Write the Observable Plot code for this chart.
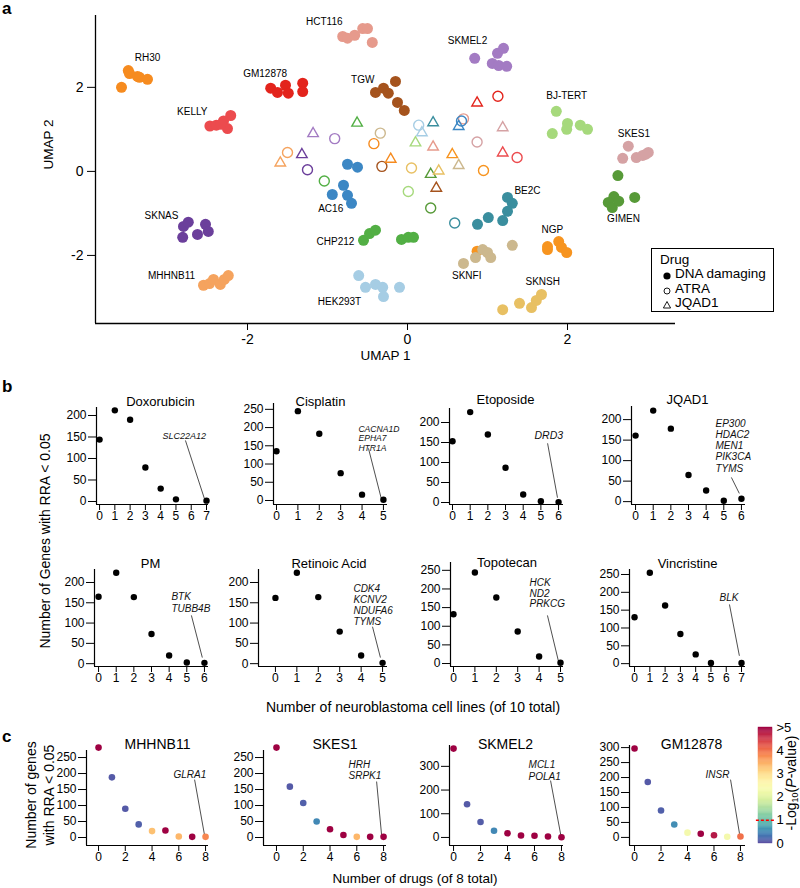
<!DOCTYPE html>
<html><head><meta charset="utf-8">
<script src="https://cdn.jsdelivr.net/npm/d3@7"></script>
<script src="https://cdn.jsdelivr.net/npm/@observablehq/plot@0.6"></script>
<style>
body{margin:0;background:#fff;}
#root{position:relative;width:800px;height:888px;font-family:"Liberation Sans",Arial,Helvetica,sans-serif;overflow:hidden;background:#fff;color:#000;}
</style></head><body><div id="root"></div>
<script>
// ---------------- DATA ----------------
// Panel a: UMAP
const cellLines = ["RH30","KELLY","GM12878","HCT116","SKMEL2","TGW","BJ-TERT","SKES1","GIMEN","BE2C","NGP","SKNSH","SKNFI","HEK293T","CHP212","AC16","SKNAS","MHHNB11"];
const lineColors = ["#F68B1F","#EC4B4E","#E3241C","#E69A8C","#A37BC3","#A5531D","#A6D97C","#D5A2A4","#579A38","#3A8E9E","#F7941F","#E8C063","#CCB88E","#A6CDE4","#52AF44","#3C87C4","#6B3F9B","#F5A35E"];
const umapTicks = [-2, 0, 2];
const dnaDamaging = [
 ["RH30",-3.49,2.40],["RH30",-3.475,2.33],["RH30",-3.375,2.26],["RH30",-3.35,2.24],["RH30",-3.25,2.19],["RH30",-3.575,2.0],
 ["KELLY",-2.47,1.08],["KELLY",-2.39,1.10],["KELLY",-2.30,1.20],["KELLY",-2.21,1.33],["KELLY",-2.25,1.02],["KELLY",-2.33,1.12],
 ["GM12878",-1.71,1.98],["GM12878",-1.625,1.88],["GM12878",-1.525,2.05],["GM12878",-1.49,1.86],["GM12878",-1.31,2.10],["GM12878",-1.31,1.90],
 ["HCT116",-0.81,3.21],["HCT116",-0.75,3.17],["HCT116",-0.66,3.24],["HCT116",-0.56,3.40],["HCT116",-0.50,3.40],["HCT116",-0.44,3.07],
 ["SKMEL2",0.84,2.69],["SKMEL2",1.06,2.57],["SKMEL2",1.125,2.81],["SKMEL2",1.2,2.93],["SKMEL2",1.14,2.52],["SKMEL2",1.24,2.5],
 ["TGW",-0.40,1.88],["TGW",-0.30,1.98],["TGW",-0.24,1.86],["TGW",-0.15,2.14],["TGW",-0.125,1.64],["TGW",-0.04,1.45],
 ["BJ-TERT",1.86,1.43],["BJ-TERT",2.0,1.14],["BJ-TERT",1.99,1.0],["BJ-TERT",1.81,0.90],["BJ-TERT",2.16,1.10],["BJ-TERT",2.25,1.0],
 ["SKES1",2.76,0.60],["SKES1",2.69,0.31],["SKES1",2.86,0.33],["SKES1",2.94,0.38],["SKES1",3.01,0.45],["SKES1",2.98,0.41],
 ["GIMEN",2.63,-0.10],["GIMEN",2.58,-0.60],["GIMEN",2.51,-0.74],["GIMEN",2.56,-0.86],["GIMEN",2.64,-0.71],["GIMEN",2.84,-0.62],
 ["BE2C",1.25,-0.62],["BE2C",1.31,-0.76],["BE2C",1.25,-0.95],["BE2C",1.19,-1.17],["BE2C",1.01,-1.10],["BE2C",0.875,-1.26],
 ["NGP",1.75,-1.86],["NGP",1.89,-1.67],["NGP",1.925,-1.81],["NGP",1.99,-1.93],["NGP",1.75,-1.79],["NGP",0.87,-1.90],
 ["SKNSH",1.19,-3.29],["SKNSH",1.40,-3.14],["SKNSH",1.55,-3.24],["SKNSH",1.61,-3.07],["SKNSH",1.675,-2.93],
 ["SKNFI",0.70,-2.19],["SKNFI",0.85,-2.05],["SKNFI",0.94,-1.86],["SKNFI",1.0,-1.93],["SKNFI",1.04,-2.05],["SKNFI",1.31,-1.76],
 ["HEK293T",-0.61,-2.48],["HEK293T",-0.525,-2.76],["HEK293T",-0.40,-2.69],["HEK293T",-0.31,-2.76],["HEK293T",-0.30,-2.98],["HEK293T",-0.10,-2.76],
 ["CHP212",-0.55,-1.64],["CHP212",-0.475,-1.48],["CHP212",-0.40,-1.40],["CHP212",-0.075,-1.62],["CHP212",0.01,-1.57],["CHP212",0.075,-1.57],
 ["AC16",-0.75,0.17],["AC16",-0.625,0.10],["AC16",-0.80,-0.33],["AC16",-0.94,-0.55],["AC16",-0.75,-0.57],["AC16",-0.70,-0.76],
 ["SKNAS",-2.80,-1.31],["SKNAS",-2.74,-1.21],["SKNAS",-2.81,-1.57],["SKNAS",-2.625,-1.50],["SKNAS",-2.525,-1.26],["SKNAS",-2.49,-1.43],
 ["MHHNB11",-2.55,-2.71],["MHHNB11",-2.475,-2.67],["MHHNB11",-2.425,-2.57],["MHHNB11",-2.34,-2.69],["MHHNB11",-2.29,-2.57],["MHHNB11",-2.24,-2.48]
];
const atra = [
 ["SKMEL2",-0.91,0.78],["SKNAS",-1.25,0.04],["MHHNB11",-1.50,0.45],["CHP212",-1.04,-0.23],["SKNFI",-0.34,0.91],["RH30",-0.42,0.66],
 ["TGW",-0.32,0.12],["HEK293T",0.14,1.10],["SKNSH",0.05,0.08],["BJ-TERT",0.01,-0.48],["GIMEN",0.29,-0.87],["BE2C",0.59,-1.23],
 ["HCT116",0.70,1.25],["AC16",0.675,1.20],["SKES1",0.87,0.70],["NGP",0.95,0.02],["GM12878",1.13,1.79],["KELLY",1.37,0.33]
];
const jqad1 = [
 ["SKMEL2",-1.18,0.90],["SKNAS",-1.32,0.40],["MHHNB11",-1.59,0.20],["CHP212",-0.63,1.15],["RH30",-0.21,0.29],["HEK293T",0.18,0.92],
 ["BE2C",0.32,1.16],["BJ-TERT",0.10,0.68],["HCT116",0.32,0.58],["AC16",0.64,1.07],["NGP",0.56,0.40],["SKNFI",0.64,0.14],
 ["GIMEN",0.29,-0.07],["SKNSH",0.39,0.01],["TGW",0.36,-0.40],["GM12878",0.87,1.63],["SKES1",1.19,1.04],["KELLY",1.19,0.44]
];
const lineLabels = [
 ["RH30",-3.25,2.71],["GM12878",-1.78,2.33],["KELLY",-2.69,1.43],["HCT116",-1.04,3.55],["SKMEL2",0.75,3.10],["TGW",-0.56,2.19],
 ["BJ-TERT",1.99,1.81],["SKES1",2.83,0.90],["GIMEN",2.70,-1.14],["BE2C",1.50,-0.47],["NGP",1.81,-1.38],["SKNSH",1.69,-2.62],
 ["SKNFI",0.74,-2.48],["HEK293T",-0.85,-3.10],["CHP212",-0.90,-1.67],["AC16",-0.96,-0.90],["SKNAS",-3.075,-1.05],["MHHNB11",-2.95,-2.48]
];
const drugLegend = ["DNA damaging","ATRA","JQAD1"];

// Panel b: genes per number of neuroblastoma cell lines
const doxLines = [0,1,2,3,4,5,7];   const doxGenes = [144,212,190,79,30,5,2];
const cisLines = [0,1,2,3,4,5];     const cisGenes = [135,245,183,75,16,2];
const etoLines = [0,1,2,3,4,5,6];   const etoGenes = [153,226,170,87,20,3,1];
const jqLines  = [0,1,2,3,4,5,6];   const jqGenes  = [161,222,178,65,27,2,7];
const pmLines  = [0,1,2,3,4,5,6];   const pmGenes  = [165,224,164,73,20,3,2];
const raLines  = [0,1,2,3,4,5];     const raGenes  = [162,224,164,79,20,2];
const topoLines= [0,1,2,3,4,5];     const topoGenes= [132,244,177,86,19,2];
const vinLines = [0,1,2,3,4,5,7];   const vinGenes = [130,255,163,83,26,2,2];
const doxHits = ["SLC22A12"];
const cisHits = ["CACNA1D","EPHA7","HTR1A"];
const etoHits = ["DRD3"];
const jqHits  = ["EP300","HDAC2","MEN1","PIK3CA","TYMS"];
const pmHits  = ["BTK","TUBB4B"];
const raHits  = ["CDK4","KCNV2","NDUFA6","TYMS"];
const topoHits= ["HCK","ND2","PRKCG"];
const vinHits = ["BLK"];

// Panel c: genes per number of drugs, coloured by -log10(P)
const drugCounts = [0,1,2,3,4,5,6,7,8];
const mhhGenes = [281,188,90,41,20,22,3,2,2];   const mhhLogP = [5,0.1,0.1,0.15,3.3,5,3.4,5,3.8];
const skesGenes = [281,159,108,50,26,8,2,2,2];  const skesLogP = [5,0.1,0.15,0.5,5,5,3.4,5,5];
const skmelGenes = [375,140,65,28,18,8,7,4,1];  const skmelLogP = [5,0.1,0.12,0.5,5,5,5,5,5];
const gmGenes = [297,185,90,43,16,12,7,2,3];    const gmLogP = [5,0.1,0.15,0.55,2.3,5,4.8,2.3,4.0];
const mhhHits = ["GLRA1"]; const skesHits = ["HRH","SRPK1"]; const skmelHits = ["MCL1","POLA1"]; const gmHits = ["INSR"];
const logPTicks = [0,1,2,3,4,5];
const logPThreshold = 1;

// ---------------- DRAWING ----------------
const root = document.getElementById("root");
const FONT = '"Liberation Sans", Arial, Helvetica, sans-serif';
function place(el, left, top){ el.style.position="absolute"; el.style.left=left+"px"; el.style.top=top+"px"; root.appendChild(el); return el; }
function label(html, css){ const d=document.createElement("div"); d.innerHTML=html;
  Object.assign(d.style,{position:"absolute",whiteSpace:"nowrap",fontFamily:FONT,lineHeight:"1"},css); root.appendChild(d); return d; }
const rows = arr => arr.map(([line,u1,u2]) => ({line,u1,u2}));

// Panel a
{
  const fr = {l:95, t:15, r:675, b:323}, W = 800, H = 370;
  const xd = [-3.9, 3.35], yd = [-3.62, 3.71];
  const p = Plot.plot({
    width: W, height: H, marginLeft: fr.l, marginRight: W-fr.r, marginTop: fr.t, marginBottom: H-fr.b,
    style: {fontFamily: FONT, fontSize: "14px", background: "none", overflow: "visible", color: "#000"},
    x: {domain: xd, ticks: umapTicks, tickFormat: d => String(d), tickSize: 7, tickPadding: 4, label: null},
    y: {domain: yd, ticks: umapTicks, tickFormat: d => String(d), tickSize: 8, tickPadding: 4, label: null},
    color: {domain: cellLines, range: lineColors},
    marks: [
      Plot.ruleX([xd[0]], {strokeWidth: 1.3}),
      Plot.ruleY([yd[0]], {strokeWidth: 1.3}),
      Plot.dot(rows(atra), {x: "u1", y: "u2", stroke: "line", r: 5, strokeWidth: 1.4}),
      Plot.dot(rows(jqad1), {x: "u1", y: "u2", stroke: "line", symbol: "triangle", r: 3.9, strokeWidth: 1.4}),
      Plot.dot(rows(dnaDamaging), {x: "u1", y: "u2", fill: "line", r: 5.5}),
      Plot.text(rows(lineLabels), {x: "u1", y: "u2", text: "line", fontSize: 10}),
      Plot.text(["UMAP 1"], {frameAnchor: "bottom", text: d => d, dy: 36, fontSize: 13.5}),
      Plot.text(["UMAP 2"], {frameAnchor: "left", text: d => d, dx: -47, rotate: -90, fontSize: 13.5})
    ]
  });
  place(p, 0, 0);
  // legend
  const lg = document.createElement("div");
  Object.assign(lg.style, {position:"absolute", left:"651px", top:"248px", width:"121px", height:"62px",
    border:"1.5px solid #000", background:"#fff", fontFamily:FONT, fontSize:"13.5px"});
  const sym = [
    '<svg width="10" height="10"><circle cx="5" cy="5" r="3.6" fill="#000"/></svg>',
    '<svg width="10" height="10"><circle cx="5" cy="5" r="3" fill="none" stroke="#000" stroke-width="0.9"/></svg>',
    '<svg width="10" height="10"><path d="M5,1.5 L8.6,8 L1.4,8 Z" fill="none" stroke="#000" stroke-width="0.9"/></svg>'
  ];
  let h = '<div style="position:absolute;left:8px;top:3px;line-height:16px">Drug</div>';
  drugLegend.forEach((t,i) => {
    const cy = 25 + i*14.5;
    h += `<div style="position:absolute;left:10px;top:${cy-5}px;width:10px;height:10px">${sym[i]}</div>`;
    h += `<div style="position:absolute;left:23px;top:${cy-8}px;line-height:16px">${t}</div>`;
  });
  lg.innerHTML = h;
  root.appendChild(lg);
}

// Small panels (b and c)
function smallPanel(o){
  const mL = 45, mR = 12, mT = 34, mB = 30;
  const [fl, ft, fr, fb] = o.frame;
  const W = fr-fl+mL+mR, H = fb-ft+mT+mB;
  const pts = o.xs.map((x,i) => ({x, y: o.ys[i], p: o.ps ? o.ps[i] : 0}));
  const marks = [
    Plot.ruleX([o.xd[0]], {strokeWidth: 1.2}),
    Plot.ruleY([o.yd[0]], {strokeWidth: 1.2}),
    Plot.text([o.title], {frameAnchor: "top", text: d => d, dy: o.titleY - ft, dx: o.titleDx || 0, fontSize: o.titleSize}),
    Plot.link([o.link], {x1: d => d[0], y1: d => d[1], x2: d => d[2], y2: d => d[3], stroke: "#222", strokeWidth: 0.8}),
    Plot.dot(pts, {x: "x", y: "y", r: o.r, fill: o.ps ? "p" : "#000"}),
    Plot.text([o.note], {x: d => d[0], y: d => d[1], text: () => o.hits.join("\n"), textAnchor: "start", lineAnchor: "top",
      dy: -0.36*o.noteSize, fontStyle: "italic", fontSize: o.noteSize, lineHeight: o.noteLH || 1.15, fill: "#111"})
  ];
  const p = Plot.plot({
    width: W, height: H, marginLeft: mL, marginRight: mR, marginTop: mT, marginBottom: mB,
    style: {fontFamily: FONT, fontSize: o.tickSize + "px", background: "none", overflow: "visible", color: "#000"},
    x: {domain: o.xd, ticks: o.xt, tickFormat: d => String(d), tickSize: 6, tickPadding: 1, label: null},
    y: {domain: o.yd, ticks: o.yt, tickFormat: d => String(d), tickSize: 8, tickPadding: 2, label: null},
    color: {type: "linear", scheme: "spectral", reverse: true, domain: [0,5]},
    marks
  });
  place(p, fl-mL, ft-mT);
}
const y200 = [0,50,100,150,200], y250 = [0,50,100,150,200,250];
const bBase = {r: 3.2, tickSize: 12, titleSize: 13, noteSize: 10};
smallPanel({...bBase, title:"Doxorubicin", frame:[96,407,208,504], xd:[-0.2,7.13], yd:[-7,218.6], xt:[0,1,2,3,4,5,6,7], yt:y200, titleY:396, titleDx:8,
  xs:doxLines, ys:doxGenes, hits:doxHits, note:[4.12,156], link:[5.62,142,6.86,7], noteSize:9});
smallPanel({...bBase, title:"Cisplatin", frame:[273,403,387,504], xd:[-0.14,5.19], yd:[-11,266], xt:[0,1,2,3,4,5], yt:y250, titleY:396, titleDx:-10,
  xs:cisLines, ys:cisGenes, hits:cisHits, note:[3.83,198], link:[4.30,143,4.9,5], noteSize:8.6, noteLH:1.1});
smallPanel({...bBase, title:"Etoposide", frame:[449,408,563,504], xd:[-0.17,6.28], yd:[-5,235], xt:[0,1,2,3,4,5,6], yt:y200, titleY:394, titleDx:-1,
  xs:etoLines, ys:etoGenes, hits:etoHits, note:[4.64,170], link:[5.38,148,5.94,12], noteSize:10.5});
smallPanel({...bBase, title:"JQAD1", frame:[631,406,745,504], xd:[-0.23,6.23], yd:[-7,232], xt:[0,1,2,3,4,5,6], yt:y200, titleY:394, titleDx:-1,
  xs:jqLines, ys:jqGenes, hits:jqHits, note:[4.53,193], link:[5.43,59,5.88,20], noteLH:1.12});
smallPanel({...bBase, title:"PM", frame:[94,569,208,666], xd:[-0.23,6.23], yd:[-7,232], xt:[0,1,2,3,4,5,6], yt:y200, titleY:558, titleDx:-1,
  xs:pmLines, ys:pmGenes, hits:pmHits, note:[4.13,170], link:[5.26,119,5.88,15], noteLH:1.2});
smallPanel({...bBase, title:"Retinoic Acid", frame:[258,569,387,666], xd:[-0.79,5.23], yd:[-7,232], xt:[0,1,2,3,4,5], yt:y200, titleY:558, titleDx:6,
  xs:raLines, ys:raGenes, hits:raHits, note:[3.64,188], link:[4.53,91,4.9,15], noteLH:1.1});
smallPanel({...bBase, title:"Topotecan", frame:[450,562,563,666], xd:[-0.14,5.14], yd:[-8,271], xt:[0,1,2,3,4,5], yt:y250, titleY:557, titleDx:0,
  xs:topoLines, ys:topoGenes, hits:topoHits, note:[3.55,218], link:[4.39,129,4.91,5], noteLH:1.05});
smallPanel({...bBase, title:"Vincristine", frame:[629,569,745,666], xd:[-0.33,7.26], yd:[-8,264], xt:[0,1,2,3,4,5,6,7], yt:y250, titleY:558, titleDx:0,
  xs:vinLines, ys:vinGenes, hits:vinHits, note:[5.56,188], link:[6.21,166,6.86,22]});

const cBase = {r: 3.3, tickSize: 12, titleSize: 14, noteSize: 10, xt:[0,2,4,6,8], titleY: 739};
smallPanel({...cBase, title:"MHHNB11", frame:[86,750,208,845], xd:[-0.9,8.22], yd:[-25,272], yt:y250, titleDx:10,
  xs:drugCounts, ys:mhhGenes, ps:mhhLogP, hits:mhhHits, note:[5.6,200], link:[7.18,181,7.93,6]});
smallPanel({...cBase, title:"SKES1", frame:[263,750,386,845], xd:[-0.97,8.22], yd:[-25,272], yt:y250, titleDx:10,
  xs:drugCounts, ys:skesGenes, ps:skesLogP, hits:skesHits, note:[5.38,231], link:[7.48,175,7.85,9], noteLH:1.1});
smallPanel({...cBase, title:"SKMEL2", frame:[449,745,563,845], xd:[-0.3,8.15], yd:[-34,388], yt:[0,100,200,300], titleDx:-1,
  xs:drugCounts, ys:skmelGenes, ps:skmelLogP, hits:skmelHits, note:[5.56,312], link:[7.19,240,7.95,10], noteLH:1.2});
smallPanel({...cBase, title:"GM12878", frame:[629,745,745,845], xd:[-0.38,8.38], yd:[-27,307], yt:[0,50,100,150,200,250,300], titleDx:4,
  xs:drugCounts, ys:gmGenes, ps:gmLogP, hits:gmHits, note:[5.36,213], link:[7.25,193,7.93,12]});

// Colour bar
{
  const fr = [758,727,772,843], mL = 6, mR = 30, mT = 10, mB = 10;
  const steps = d3.range(0, 5, 0.05).map(a => ({a, b: a+0.05, m: a+0.025}));
  const p = Plot.plot({
    width: fr[2]-fr[0]+mL+mR, height: fr[3]-fr[1]+mT+mB, marginLeft: mL, marginRight: mR, marginTop: mT, marginBottom: mB,
    style: {fontFamily: FONT, fontSize: "13px", background: "none", overflow: "visible", color: "#000"},
    x: {domain: [0,1], axis: null},
    y: {domain: [0,5], ticks: logPTicks, tickFormat: d => d === 5 ? ">5" : String(d), axis: "right", tickSize: 0, tickPadding: 4, label: null},
    color: {type: "linear", scheme: "spectral", reverse: true, domain: [0,5]},
    marks: [
      Plot.rect(steps, {x1: 0, x2: 1, y1: "a", y2: "b", fill: "m", stroke: "m", strokeWidth: 0.4}),
      Plot.ruleY([logPThreshold], {x1: -0.15, x2: 1.15, stroke: "#ff0000", strokeDasharray: "3,2", strokeWidth: 1.5})
    ]
  });
  place(p, fr[0]-mL, fr[1]-mT);
}

// Axis titles & panel letters
label("a", {left:"2px", top:"0px", fontWeight:"bold", fontSize:"17px"});
label("b", {left:"2px", top:"378px", fontWeight:"bold", fontSize:"17px"});
label("c", {left:"2px", top:"728px", fontWeight:"bold", fontSize:"17px"});
label("Number of Genes with RRA &lt; 0.05", {left:"45px", top:"541px", fontSize:"14px", transform:"translate(-50%,-50%) rotate(-90deg)"});
label("Number of neuroblastoma cell lines (of 10 total)", {left:"413px", top:"707px", fontSize:"14px", transform:"translate(-50%,-50%)"});
label("Number of genes<br>with RRA &lt; 0.05", {left:"40px", top:"795px", fontSize:"14px", lineHeight:"18px", textAlign:"center", transform:"translate(-50%,-50%) rotate(-90deg)"});
label("Number of drugs (of 8 total)", {left:"415px", top:"879px", fontSize:"13.5px", transform:"translate(-50%,-50%)"});
label("-Log<sub style='font-size:9px;vertical-align:-2px'>10</sub>(<i>P</i>-value)", {left:"792px", top:"783px", fontSize:"14px", transform:"translate(-50%,-50%) rotate(-90deg)"});
</script></body></html>
